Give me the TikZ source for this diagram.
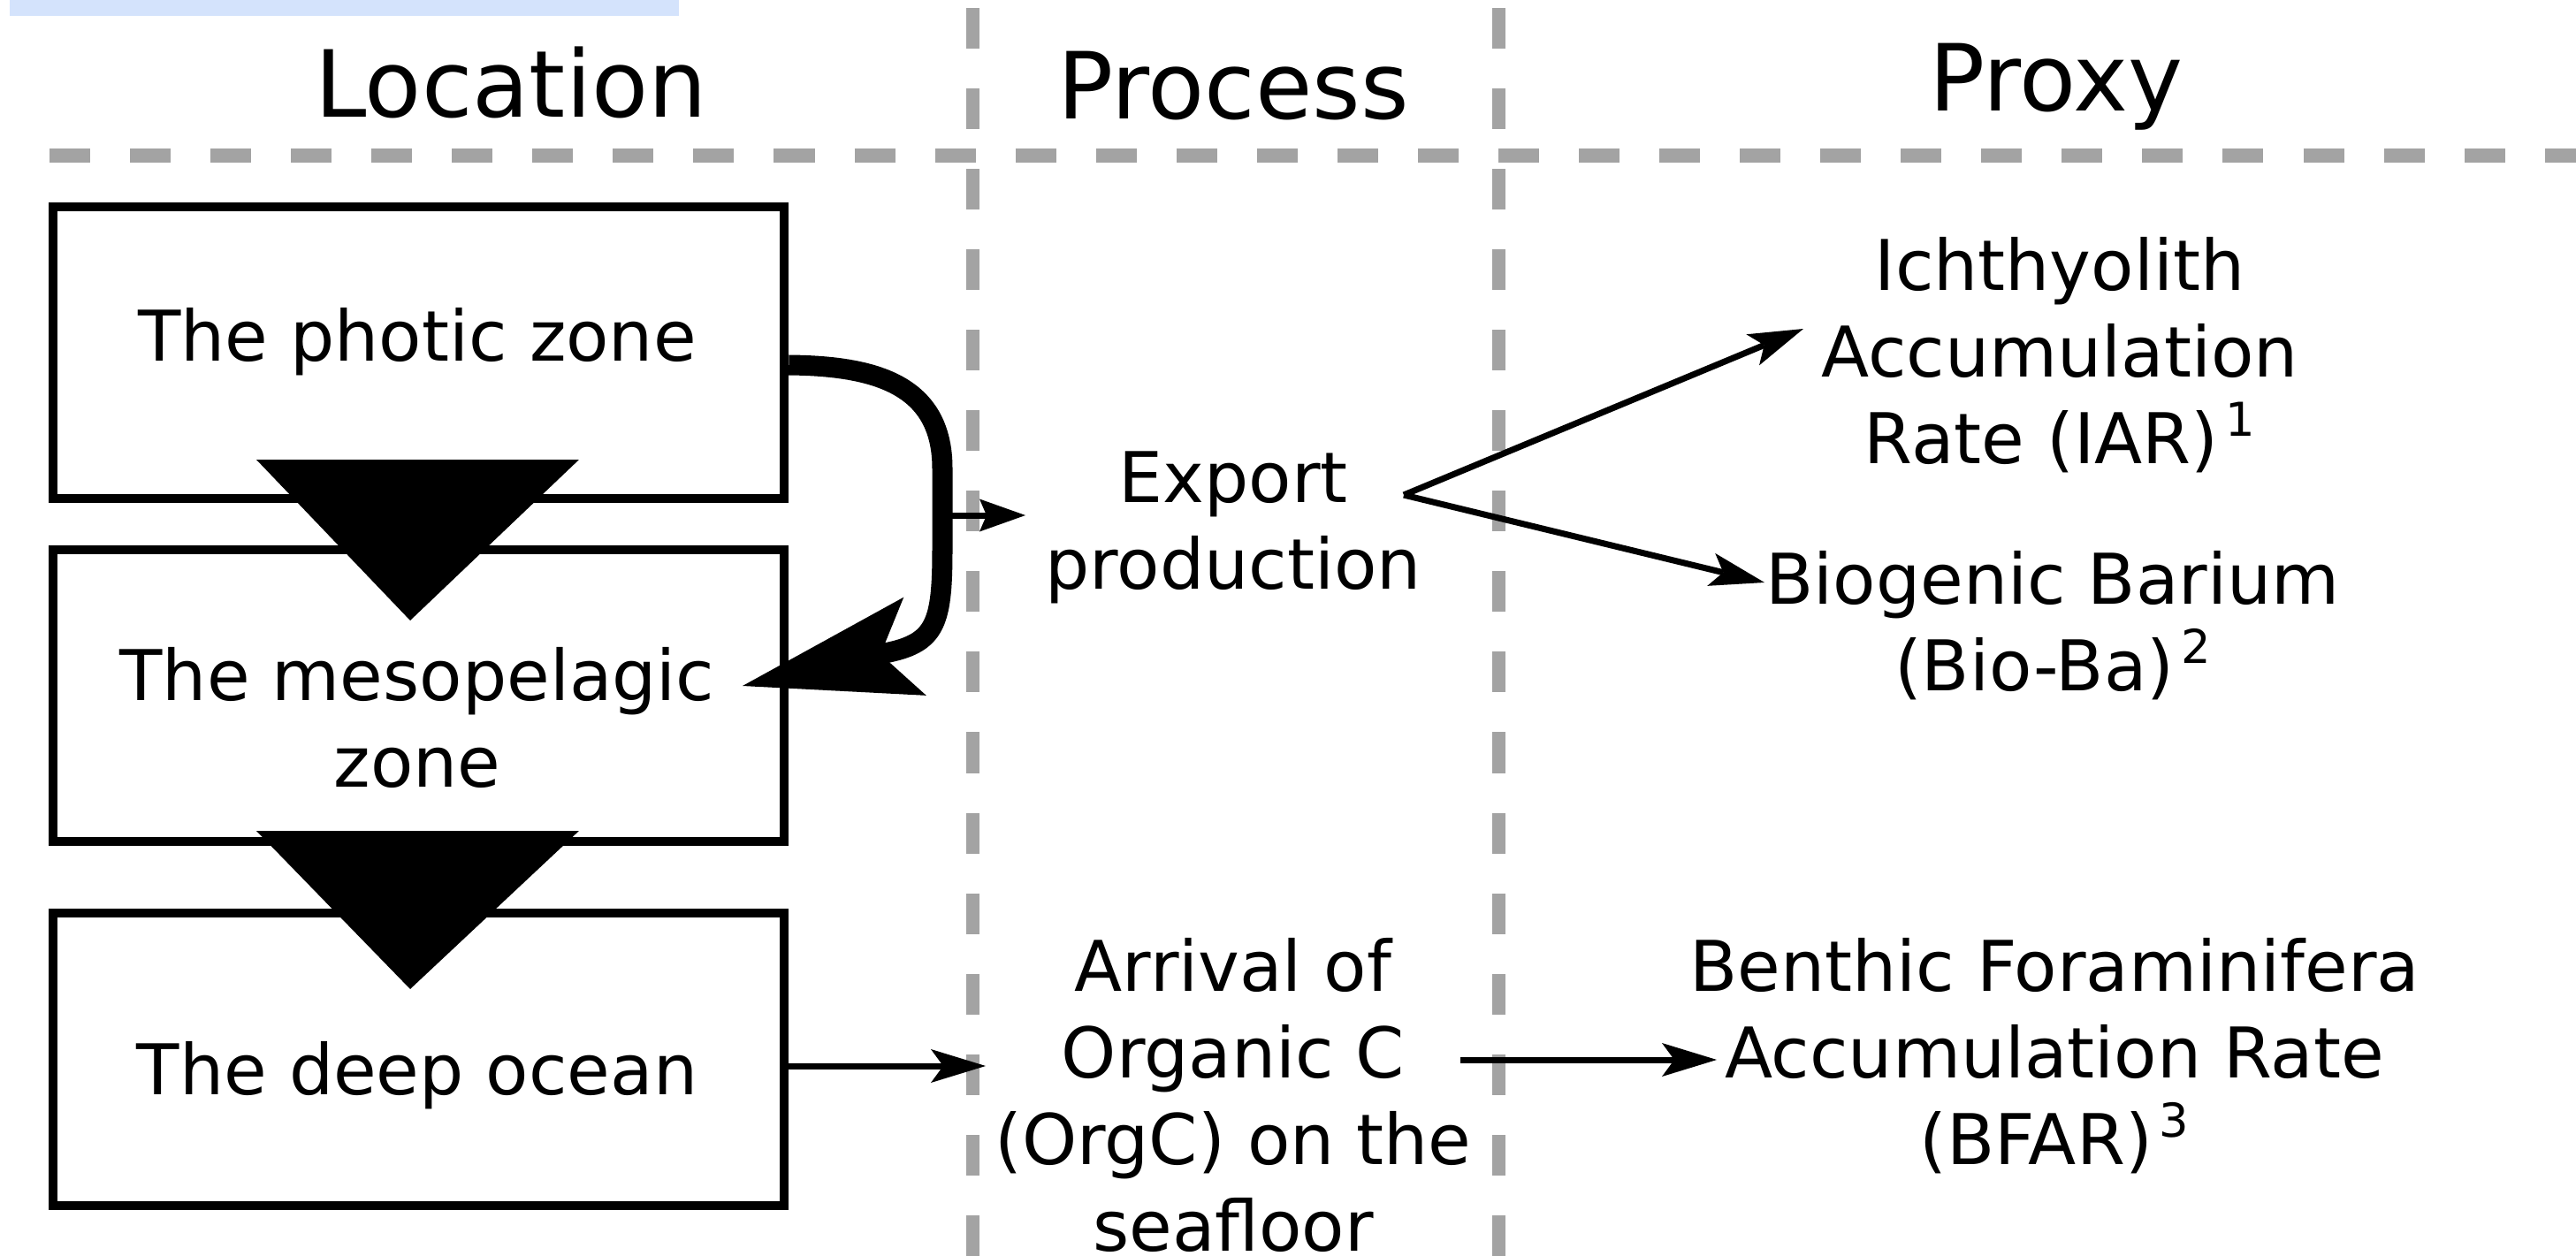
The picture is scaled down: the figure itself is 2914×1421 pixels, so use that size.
\documentclass[tikz,border=0pt]{standalone}
\usepackage{fontspec}
\setmainfont{DejaVu Sans}
\usetikzlibrary{arrows.meta}
\definecolor{dashgray}{RGB}{163,163,163}
\definecolor{topblue}{RGB}{212,227,252}
\newcommand\supnum[1]{\hspace{0.08cm}\raisebox{0.31cm}{\fontsize{15}{16}\selectfont #1}}
\begin{document}
\begin{tikzpicture}[x=0.01cm, y=-0.01cm,
  txt/.style={font=\fontsize{22.5}{27.9}\selectfont, align=center, inner sep=0pt},
  hd/.style={font=\fontsize{29.8}{34}\selectfont, inner sep=0pt, anchor=base},
  boxn/.style={draw, line width=0.1cm, minimum width=8.27cm, minimum height=3.3cm, inner sep=0pt},
  gdash/.style={draw=dashgray, dash pattern=on 0.46cm off 0.45cm},
  arr/.style={line width=0.07cm, -{Stealth[length=0.62cm, width=0.38cm, inset=0.14cm, line width=0pt]}},
  bigarr/.style={line width=0.23cm, -{Stealth[length=2cm, width=1.14cm, inset=0.4cm, line width=0pt]}},
  tri/.style={fill=black}
]
\useasboundingbox (0,0) rectangle (2914,1421);
% top blue strip
\fill[topblue] (11,0) rectangle (768,18);
% dashed grid
\draw[gdash, line width=0.16cm] (56,176) -- (2914,176);
\draw[gdash, line width=0.15cm] (1100,9) -- (1100,1421);
\draw[gdash, line width=0.15cm] (1695,9) -- (1695,1421);
% headers
\node[hd] (hloc) at (578,132) {Location};
\node[hd] (hproc) at (1395,134) {Process};
\node[hd] (hprox) at (2326,125) {Proxy};
% boxes
\node[boxn] (box1) at (473.5,399) {};
\node[boxn] (box2) at (473.5,787) {};
\node[boxn] (box3) at (473.5,1198.5) {};
% triangles
\fill[tri] (290,520) -- (655,520) -- (464,702) -- cycle;
\fill[tri] (290,940) -- (655,940) -- (464,1119) -- cycle;
% texts
\node[txt] (t1) at (472,387) {The photic zone};
\node[txt] (t2) at (472,812) {The mesopelagic\\zone};
\node[txt] (t3) at (472,1217) {The deep ocean};
\node[txt] (exp) at (1395,597) {Export\\production};
\node[txt] (iar) at (2330,402) {Ichthyolith\\Accumulation\\Rate (IAR)\supnum{1}};
\node[txt] (bio) at (2322,708) {Biogenic Barium\\(Bio-Ba)\supnum{2}};
\node[txt] (orgc) at (1395,1239) {Arrival of\\Organic C\\(OrgC) on the\\seafloor};
\node[txt] (bfar) at (2324,1195) {Benthic Foraminifera\\Accumulation Rate\\(BFAR)\supnum{3}};
% coordinates
\coordinate (cs) at (888,413);
\coordinate (ctip) at (840,776);
\coordinate (exS) at (1072,583);
\coordinate (exT) at (1160,583);
\coordinate (exB) at (1588,560);
\coordinate (iarT) at (2040,372);
\coordinate (bioT) at (1996,659);
\coordinate (deepT) at (1115,1206);
\coordinate (orgS) at (1652,1199);
\coordinate (bfT) at (1942,1199);
% connectors
\draw[bigarr] (box1.east |- cs) .. controls (990,414) and (1066,435) .. (1066,530) -- (1066,620) .. controls (1066,700) and (1060,725) .. (1010,737) -- (ctip);
\draw[line width=0.07cm, -{Stealth[length=0.52cm, width=0.37cm, inset=0.08cm, line width=0pt]}] (exS) -- (exT);
\draw[arr] (exB) -- (iarT);
\draw[arr] (exB) -- (bioT);
\draw[arr] (box3.east |- deepT) -- (deepT);
\draw[arr] (orgS) -- (bfT);
\end{tikzpicture}
\end{document}
